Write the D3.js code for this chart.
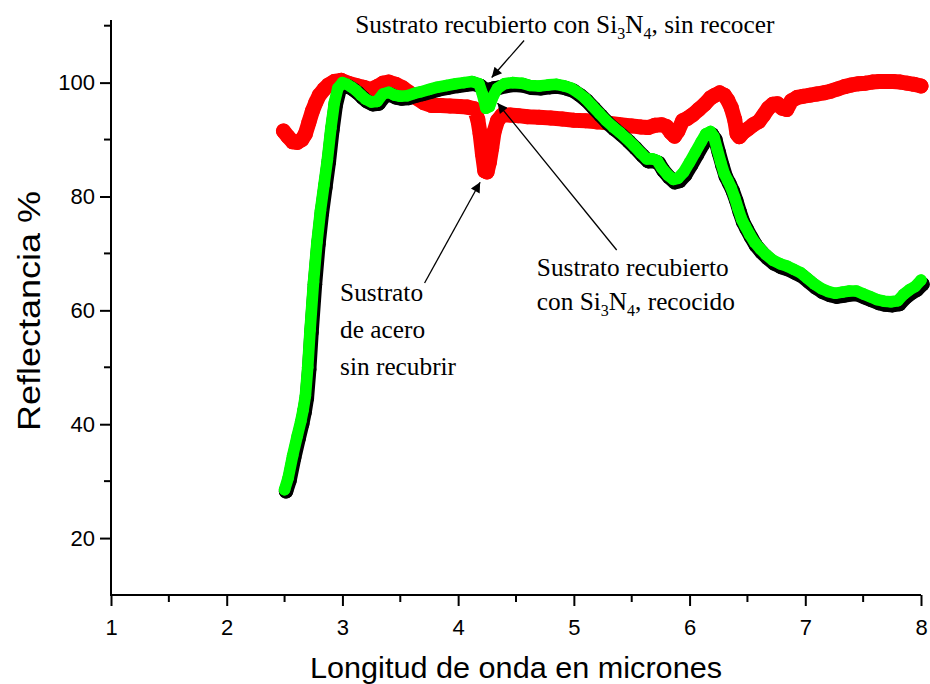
<!DOCTYPE html>
<html>
<head>
<meta charset="utf-8">
<script src="https://cdn.jsdelivr.net/npm/d3@7"></script>
<style>
  body { margin: 0; background: #fff; }
  .tick text { font-family: "Liberation Sans", Arial, sans-serif; }
</style>
</head>
<body>
<script>
// Uncoated steel substrate (red)
var redW = [2.49,2.53,2.57,2.61,2.65,2.68,2.71,2.74,2.77,2.80,2.84,2.88,2.93,2.99,3.05,3.12,3.18,3.24,3.30,3.35,
  3.40,3.46,3.52,3.58,3.64,3.70,3.77,3.85,3.93,4.01,4.08,4.14,4.17,4.19,4.21,4.23,4.25,4.27,4.29,4.31,
  4.34,4.38,4.45,4.52,4.60,4.70,4.80,4.90,5.00,5.10,5.20,5.30,5.40,5.50,5.58,5.64,5.70,5.76,5.80,5.84,
  5.87,5.90,5.94,5.98,6.03,6.08,6.13,6.18,6.22,6.26,6.30,6.33,6.36,6.39,6.41,6.43,6.46,6.50,6.55,6.60,
  6.64,6.68,6.72,6.76,6.80,6.84,6.88,6.93,6.98,7.04,7.10,7.16,7.22,7.28,7.34,7.40,7.46,7.52,7.58,7.64,
  7.70,7.76,7.82,7.88,7.94,8.00];
var redR = [91.5,90.5,89.6,89.5,90.0,91.0,93.0,95.0,96.5,97.8,98.8,99.6,100.2,100.4,99.9,99.5,99.2,98.8,99.3,99.9,
  100.1,99.7,99.1,98.2,97.3,96.5,96.0,96.0,95.9,95.8,95.7,95.4,93.5,91.0,87.5,84.5,84.3,86.0,88.5,91.3,
  93.3,94.3,94.3,94.2,94.0,93.9,93.8,93.6,93.4,93.3,93.1,92.9,92.6,92.4,92.2,92.1,92.5,92.6,92.3,91.2,
  90.6,91.5,93.3,93.7,94.4,95.3,96.2,97.3,97.8,98.2,97.8,96.9,95.6,93.5,91.0,90.5,91.2,91.8,92.6,93.2,
  94.3,95.5,96.2,96.3,95.5,95.3,96.8,97.4,97.6,97.8,98.0,98.2,98.5,98.9,99.3,99.6,99.8,99.9,100.1,100.2,
  100.2,100.2,100.1,99.9,99.7,99.4];

// Si3N4 coated substrate, not annealed (black) and annealed (green)
var coatW = [2.50,2.53,2.57,2.61,2.64,2.66,2.68,2.70,2.72,2.75,2.78,2.81,2.84,2.87,2.90,2.93,2.96,3.00,3.04,3.08,
  3.12,3.16,3.20,3.25,3.30,3.35,3.40,3.45,3.50,3.56,3.62,3.68,3.75,3.82,3.90,3.98,4.05,4.12,4.18,4.21,
  4.24,4.27,4.30,4.34,4.40,4.47,4.55,4.62,4.70,4.78,4.85,4.92,4.98,5.04,5.10,5.16,5.22,5.28,5.34,5.40,
  5.46,5.52,5.58,5.63,5.68,5.72,5.76,5.81,5.86,5.90,5.95,6.00,6.05,6.10,6.14,6.18,6.21,6.24,6.27,6.30,
  6.33,6.36,6.39,6.42,6.45,6.48,6.52,6.56,6.61,6.66,6.72,6.78,6.84,6.90,6.96,7.02,7.08,7.14,7.20,7.26,
  7.32,7.38,7.44,7.50,7.56,7.62,7.68,7.74,7.80,7.85,7.90,7.95,8.00];
var blackR = [28.2,30.1,34.1,37.6,40.1,42.1,44.6,49.6,56.1,64.6,71.6,77.1,81.6,86.1,91.6,96.1,98.6,99.6,99.3,98.8,
  98.2,97.4,96.7,96.2,96.3,97.6,97.9,97.4,97.2,97.3,97.7,98.0,98.4,98.8,99.1,99.4,99.6,99.8,99.4,98.9,
  98.6,98.8,99.0,99.1,99.4,99.6,99.5,99.1,99.0,99.2,99.3,99.0,98.6,97.8,96.8,95.5,94.2,92.9,91.8,90.8,
  89.7,88.5,87.2,86.2,86.2,85.9,84.6,83.4,82.5,82.7,83.8,85.5,87.3,89.1,90.5,90.9,90.0,87.7,85.5,83.5,
  82.3,81.0,79.3,77.3,75.5,74.3,72.8,71.4,70.2,69.2,68.2,67.6,67.2,66.6,66.0,65.0,64.0,63.2,62.7,62.4,
  62.6,62.8,62.8,62.3,61.8,61.3,61.0,60.9,61.1,62.2,63.0,63.6,64.6];
var greenR = [28.5,30.5,34.5,38.0,40.5,42.5,45.0,50.0,56.5,65.0,72.0,77.5,82.0,86.5,92.0,96.5,99.0,100.0,99.7,99.2,
  98.6,97.8,97.1,96.6,96.7,98.0,98.3,97.8,97.6,97.7,98.1,98.4,98.8,99.2,99.5,99.8,100.0,100.2,99.8,98.0,
  95.5,95.8,97.5,99.0,99.8,100.0,99.9,99.5,99.4,99.6,99.7,99.4,99.0,98.2,97.2,95.9,94.6,93.3,92.2,91.2,
  90.1,88.9,87.6,86.6,86.6,86.3,85.0,83.8,83.0,83.2,84.3,86.0,87.8,89.6,91.0,91.4,90.5,88.2,86.0,84.0,
  82.8,81.5,79.8,77.8,76.0,74.8,73.3,72.0,70.8,69.8,68.8,68.2,67.8,67.2,66.6,65.6,64.6,63.8,63.3,63.0,
  63.2,63.4,63.4,62.9,62.4,61.9,61.6,61.5,61.7,62.8,63.6,64.2,65.3];

// Axis ticks
var xTicks = [1, 2, 3, 4, 5, 6, 7, 8];
var xMinor = [1.5, 2.5, 3.5, 4.5, 5.5, 6.5, 7.5];
var yTicks = [20, 40, 60, 80, 100];
var yMinor = [30, 50, 70, 90, 110];

window.onload = function(){
  var w = 930, h = 684;
  var margin = {top: 20, right: 9, bottom: 89, left: 111};

  var svg = d3.select("body")
    .append("svg")
    .attr("width", w)
    .attr("height", h);

  var x = d3.scaleLinear()
    .domain([1, 8])
    .range([margin.left, w - margin.right]);

  var y = d3.scaleLinear()
    .domain([10, 111])
    .range([h - margin.bottom, margin.top]);

  // Build point lists for each series
  function pts(ws, vs){
    return ws.map(function(d, i){ return [d, vs[i]]; });
  }
  var series = [
    {data: pts(redW, redR), color: "#ff0000", r: 7.5, dx: 0},
    {data: pts(coatW, blackR), color: "#000000", r: 7.2, dx: 1.5},
    {data: pts(coatW, greenR), color: "#00ff00", r: 5.8, dx: 0}
  ];

  var line = d3.line()
    .x(function(d){ return x(d[0]); })
    .y(function(d){ return y(d[1]); });

  series.forEach(function(s){
    var g = svg.append("g")
      .attr("transform", "translate(" + s.dx + ",0)");
    g.append("path")
      .datum(s.data)
      .attr("d", line)
      .style("fill", "none")
      .style("stroke", s.color)
      .style("stroke-width", s.r * 2)
      .style("stroke-linejoin", "round")
      .style("stroke-linecap", "round");
    g.selectAll("circle")
      .data(s.data)
      .enter()
      .append("circle")
      .attr("cx", function(d){ return x(d[0]); })
      .attr("cy", function(d){ return y(d[1]); })
      .attr("r", s.r)
      .style("fill", s.color);
  });

  // Axes (left and bottom only)
  var xAxis = svg.append("g")
    .attr("transform", "translate(0," + (h - margin.bottom) + ")")
    .call(d3.axisBottom(x).tickValues(xTicks).tickSize(11).tickPadding(13).tickFormat(d3.format("d")));
  xAxis.selectAll(".minor")
    .data(xMinor).enter()
    .append("line")
    .attr("class", "minor")
    .attr("x1", function(d){ return x(d); })
    .attr("x2", function(d){ return x(d); })
    .attr("y1", 0).attr("y2", 7)
    .style("stroke", "#000").style("stroke-width", 2);

  var yAxis = svg.append("g")
    .attr("transform", "translate(" + margin.left + ",0)")
    .call(d3.axisLeft(y).tickValues(yTicks).tickSize(11).tickPadding(5));
  yAxis.selectAll(".minor")
    .data(yMinor).enter()
    .append("line")
    .attr("class", "minor")
    .attr("x1", 0).attr("x2", -7)
    .attr("y1", function(d){ return y(d); })
    .attr("y2", function(d){ return y(d); })
    .style("stroke", "#000").style("stroke-width", 2);

  [xAxis, yAxis].forEach(function(a){
    a.select(".domain").style("stroke-width", 2);
    a.selectAll(".tick line").style("stroke-width", 2);
    a.selectAll(".tick text").style("font-size", "22px").style("fill", "#000");
  });
  xAxis.select(".domain").attr("d", "M" + (margin.left - 1) + ",0H" + (w - margin.right));
  yAxis.select(".domain").attr("d", "M0," + margin.top + "V" + (h - margin.bottom + 1));

  // Axis titles
  svg.append("text")
    .attr("x", (margin.left + w - margin.right) / 2)
    .attr("y", 678)
    .attr("text-anchor", "middle")
    .style("font-family", "Liberation Sans, Arial, sans-serif")
    .style("font-size", "30px")
    .attr("textLength", 412)
    .attr("lengthAdjust", "spacingAndGlyphs")
    .text("Longitud de onda en micrones");

  svg.append("text")
    .attr("transform", "translate(40,311) rotate(-90)")
    .attr("text-anchor", "middle")
    .style("font-family", "Liberation Sans, Arial, sans-serif")
    .style("font-size", "31px")
    .attr("textLength", 240)
    .attr("lengthAdjust", "spacingAndGlyphs")
    .text("Reflectancia %");

  // Arrow head marker
  svg.append("defs").append("marker")
    .attr("id", "head")
    .attr("viewBox", "0 0 10 10")
    .attr("refX", 10).attr("refY", 5)
    .attr("markerUnits", "userSpaceOnUse")
    .attr("markerWidth", 14).attr("markerHeight", 10)
    .attr("orient", "auto")
    .append("path")
    .attr("d", "M0,0L10,5L0,10Z")
    .style("fill", "#000");

  // Annotations in data units: arrow tail -> head
  var arrows = [
    {from: [4.57, 107.4], to: [4.29, 100.9]},
    {from: [3.71, 64.8], to: [4.19, 82.5]},
    {from: [5.37, 70.6], to: [4.34, 96.4]}
  ];
  svg.selectAll(".arrow")
    .data(arrows).enter()
    .append("line")
    .attr("class", "arrow")
    .attr("x1", function(d){ return x(d.from[0]); })
    .attr("y1", function(d){ return y(d.from[1]); })
    .attr("x2", function(d){ return x(d.to[0]); })
    .attr("y2", function(d){ return y(d.to[1]); })
    .style("stroke", "#000")
    .style("stroke-width", 1.3)
    .attr("marker-end", "url(#head)");

  var serif = "Liberation Serif, Times New Roman, serif";
  // parts: plain strings, or ["3"] arrays for subscripts
  function label(wx, vy, parts){
    var t = svg.append("text")
      .attr("x", x(wx))
      .attr("y", y(vy))
      .style("font-family", serif)
      .style("font-size", "25.3px")
      .style("fill", "#000");
    var shifted = false;
    parts.forEach(function(p){
      if (Array.isArray(p)) {
        t.append("tspan").attr("dy", 6).style("font-size", "16px").text(p[0]);
        shifted = true;
      } else {
        t.append("tspan").attr("dy", shifted ? -6 : 0).text(p);
        shifted = false;
      }
    });
  }

  label(3.11, 108.7, ["Sustrato recubierto con Si", ["3"], "N", ["4"], ", sin recocer"]);
  label(2.98, 61.6, ["Sustrato"]);
  label(2.98, 55.1, ["de acero"]);
  label(2.98, 48.7, ["sin recubrir"]);
  label(4.68, 66.0, ["Sustrato recubierto"]);
  label(4.68, 60.1, ["con Si", ["3"], "N", ["4"], ", recocido"]);
};
</script>
</body>
</html>
